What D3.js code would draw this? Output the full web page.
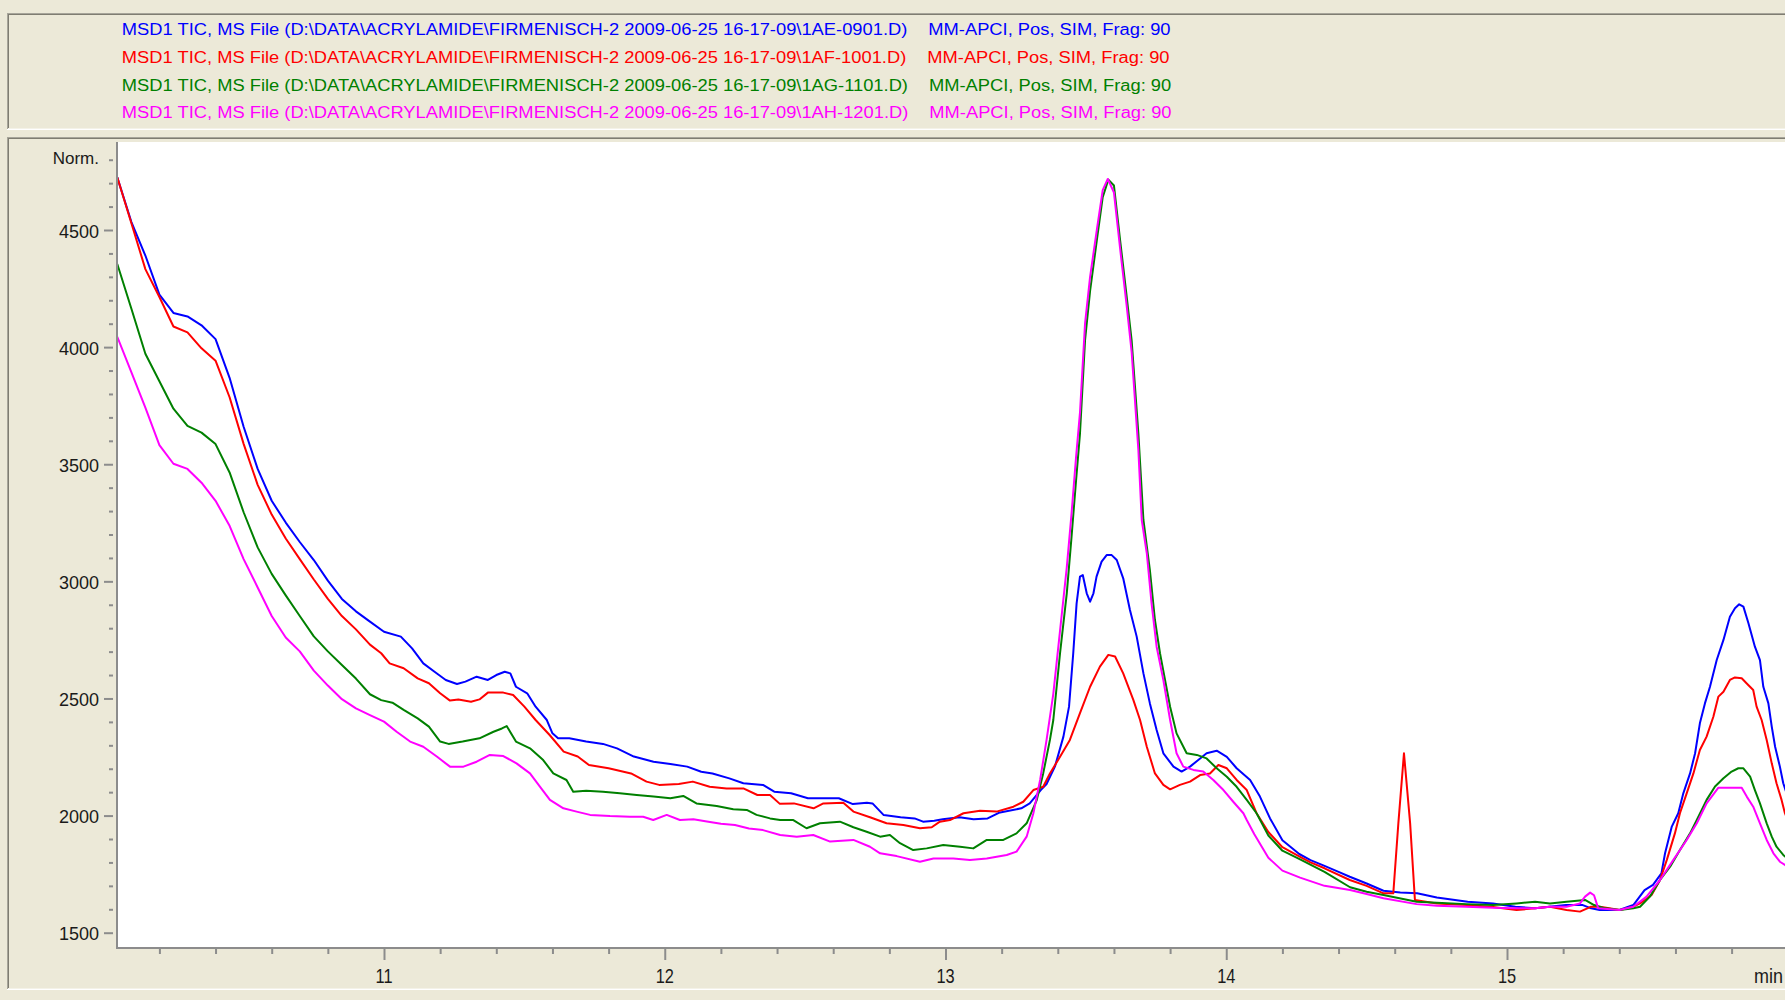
<!DOCTYPE html>
<html>
<head>
<meta charset="utf-8">
<script src="https://cdn.jsdelivr.net/npm/d3@7"></script>
<style>
  html, body { margin: 0; padding: 0; background: #ECE9D8; overflow: hidden; }
  svg { display: block; }
</style>
</head>
<body>
<svg id="chart" width="1785" height="1000"></svg>
<script>
// ---- Run descriptions (one per overlaid TIC trace) ----
const fileLabels = [
  "MSD1 TIC, MS File (D:\\DATA\\ACRYLAMIDE\\FIRMENISCH-2 2009-06-25 16-17-09\\1AE-0901.D)",
  "MSD1 TIC, MS File (D:\\DATA\\ACRYLAMIDE\\FIRMENISCH-2 2009-06-25 16-17-09\\1AF-1001.D)",
  "MSD1 TIC, MS File (D:\\DATA\\ACRYLAMIDE\\FIRMENISCH-2 2009-06-25 16-17-09\\1AG-1101.D)",
  "MSD1 TIC, MS File (D:\\DATA\\ACRYLAMIDE\\FIRMENISCH-2 2009-06-25 16-17-09\\1AH-1201.D)"
];
const methodLabel = "MM-APCI, Pos, SIM, Frag: 90";
const traceColors = ["#0000FF", "#FF0000", "#008000", "#FF00FF"];

// ---- Axis ticks ----
const yTickValues = [1500, 2000, 2500, 3000, 3500, 4000, 4500];
const yMinorValues = d3.range(1500, 4801, 100);
const xTickValues = [11, 12, 13, 14, 15];
const xMinorValues = d3.range(10.2, 16.0, 0.2).map(v => +v.toFixed(1));
const yUnitLabel = "Norm.";
const xUnitLabel = "min";

// ---- Traces: [retention time (min), normalised abundance] ----
const traceAE = [
  [10.05,4725],[10.10,4535],[10.15,4391],[10.20,4224],[10.25,4146],[10.30,4131],[10.35,4093],[10.40,4034],
  [10.45,3869],[10.50,3660],[10.55,3480],[10.60,3344],[10.65,3251],[10.70,3168],[10.75,3091],[10.80,3003],
  [10.85,2925],[10.90,2872],[10.95,2828],[11.00,2785],[11.06,2764],[11.10,2714],[11.14,2650],[11.18,2614],
  [11.22,2579],[11.26,2562],[11.29,2572],[11.33,2593],[11.37,2579],[11.40,2600],[11.43,2614],[11.45,2607],
  [11.47,2550],[11.51,2522],[11.54,2465],[11.58,2408],[11.60,2351],[11.62,2330],[11.66,2330],[11.72,2316],
  [11.78,2306],[11.83,2287],[11.89,2252],[11.96,2230],[12.02,2220],[12.08,2209],[12.13,2187],[12.17,2180],
  [12.23,2159],[12.28,2138],[12.35,2131],[12.39,2102],[12.45,2095],[12.51,2074],[12.62,2074],[12.67,2049],
  [12.72,2055],[12.74,2052],[12.78,2002],[12.84,1993],[12.89,1988],[12.92,1974],[12.96,1978],[12.99,1984],
  [13.05,1993],[13.10,1984],[13.15,1988],[13.19,2012],[13.27,2031],[13.30,2052],[13.34,2110],[13.36,2135],
  [13.39,2210],[13.42,2337],[13.44,2465],[13.455,2693],[13.467,2906],[13.479,3020],[13.489,3027],[13.503,2949],
  [13.515,2913],[13.527,2949],[13.538,3020],[13.556,3084],[13.574,3112],[13.592,3112],[13.61,3091],[13.633,3013],
  [13.657,2878],[13.681,2764],[13.705,2607],[13.728,2479],[13.752,2365],[13.776,2266],[13.812,2209],[13.841,2188],
  [13.871,2209],[13.907,2244],[13.93,2266],[13.966,2277],[14.002,2251],[14.037,2202],[14.085,2152],[14.12,2081],
  [14.156,1988],[14.2,1895],[14.26,1836],[14.3,1810],[14.35,1785],[14.4,1760],[14.44,1739],[14.5,1710],
  [14.56,1679],[14.62,1672],[14.68,1668],[14.75,1650],[14.86,1632],[14.95,1625],[15.03,1611],[15.1,1604],
  [15.15,1611],[15.21,1618],[15.27,1618],[15.3,1604],[15.33,1597],[15.4,1597],[15.45,1618],[15.49,1682],
  [15.52,1704],[15.55,1753],[15.563,1839],[15.587,1953],[15.61,2010],[15.628,2095],[15.652,2180],[15.67,2266],
  [15.687,2394],[15.705,2479],[15.723,2550],[15.747,2664],[15.771,2750],[15.794,2849],[15.812,2885],[15.827,2902],
  [15.842,2892],[15.86,2821],[15.883,2721],[15.901,2664],[15.913,2550],[15.931,2479],[15.943,2380],[15.955,2294],
  [15.972,2209],[15.984,2138],[16.0,2080]
];

const traceAF = [
  [10.05,4725],[10.10,4530],[10.15,4333],[10.20,4214],[10.25,4088],[10.30,4063],[10.35,3995],[10.40,3942],
  [10.45,3786],[10.50,3587],[10.55,3412],[10.60,3285],[10.65,3183],[10.70,3095],[10.75,3008],[10.80,2925],
  [10.85,2852],[10.90,2795],[10.95,2730],[10.99,2693],[11.02,2650],[11.07,2629],[11.12,2586],[11.16,2565],
  [11.20,2522],[11.235,2491],[11.265,2496],[11.31,2486],[11.34,2496],[11.37,2525],[11.425,2525],[11.46,2515],
  [11.50,2465],[11.54,2408],[11.59,2344],[11.64,2273],[11.69,2252],[11.73,2216],[11.80,2202],[11.88,2180],
  [11.935,2145],[11.98,2131],[12.05,2135],[12.10,2145],[12.16,2123],[12.22,2116],[12.28,2116],[12.33,2088],
  [12.375,2088],[12.41,2050],[12.46,2052],[12.53,2031],[12.565,2052],[12.636,2055],[12.672,2017],[12.731,1993],
  [12.79,1967],[12.85,1960],[12.909,1946],[12.951,1950],[12.98,1974],[13.016,1981],[13.064,2010],[13.123,2021],
  [13.182,2017],[13.242,2038],[13.277,2059],[13.313,2109],[13.348,2123],[13.372,2180],[13.408,2251],[13.443,2323],
  [13.479,2437],[13.515,2550],[13.55,2636],[13.58,2686],[13.604,2679],[13.633,2607],[13.669,2494],[13.693,2408],
  [13.717,2294],[13.746,2180],[13.776,2131],[13.80,2112],[13.835,2131],[13.871,2145],[13.907,2173],[13.942,2180],
  [13.972,2216],[14.002,2202],[14.037,2152],[14.073,2109],[14.108,2010],[14.15,1930],[14.2,1865],[14.263,1824],
  [14.3,1800],[14.35,1775],[14.44,1725],[14.5,1700],[14.56,1668],[14.595,1668],[14.613,1967],[14.633,2266],
  [14.655,1967],[14.672,1640],[14.75,1625],[14.856,1618],[14.95,1610],[15.034,1597],[15.1,1604],[15.153,1611],
  [15.212,1597],[15.26,1590],[15.3,1611],[15.331,1611],[15.402,1597],[15.45,1611],[15.474,1625],[15.515,1661],
  [15.545,1725],[15.569,1810],[15.598,1924],[15.616,2010],[15.64,2095],[15.664,2180],[15.687,2280],[15.711,2337],
  [15.735,2422],[15.753,2508],[15.771,2529],[15.794,2579],[15.812,2590],[15.836,2586],[15.854,2564],[15.877,2536],
  [15.889,2465],[15.907,2408],[15.925,2323],[15.943,2223],[15.96,2138],[15.978,2067],[15.99,2010],[16.0,1980]
];

const traceAG = [
  [10.05,4355],[10.10,4165],[10.15,3972],[10.20,3854],[10.25,3737],[10.30,3664],[10.35,3635],[10.40,3586],
  [10.45,3465],[10.50,3295],[10.55,3145],[10.60,3032],[10.65,2940],[10.70,2852],[10.75,2765],[10.80,2701],
  [10.85,2643],[10.90,2585],[10.95,2518],[10.99,2493],[11.03,2482],[11.07,2451],[11.12,2415],[11.16,2380],
  [11.20,2316],[11.23,2306],[11.28,2316],[11.34,2330],[11.39,2358],[11.42,2372],[11.437,2382],[11.47,2316],
  [11.52,2287],[11.567,2237],[11.603,2180],[11.65,2152],[11.674,2102],[11.72,2106],[11.78,2102],[11.84,2095],
  [11.90,2088],[11.96,2081],[12.02,2074],[12.066,2084],[12.113,2052],[12.185,2041],[12.244,2027],[12.292,2024],
  [12.327,2003],[12.375,1988],[12.411,1981],[12.458,1981],[12.505,1946],[12.553,1967],[12.624,1974],[12.672,1950],
  [12.719,1931],[12.767,1910],[12.802,1917],[12.838,1882],[12.885,1853],[12.933,1860],[12.992,1874],[13.052,1867],
  [13.099,1860],[13.147,1896],[13.206,1896],[13.253,1924],[13.289,1967],[13.325,2066],[13.348,2180],[13.372,2323],
  [13.384,2408],[13.408,2693],[13.432,2949],[13.449,3191],[13.465,3430],[13.479,3631],[13.497,4029],[13.515,4240],
  [13.539,4456],[13.56,4640],[13.58,4715],[13.6,4690],[13.622,4456],[13.645,4220],[13.663,4029],[13.687,3631],
  [13.705,3262],[13.728,3048],[13.746,2835],[13.764,2693],[13.782,2579],[13.80,2465],[13.823,2351],[13.859,2266],
  [13.895,2259],[13.93,2244],[13.966,2202],[14.002,2166],[14.037,2123],[14.073,2067],[14.108,2010],[14.15,1915],
  [14.2,1850],[14.263,1813],[14.35,1760],[14.441,1694],[14.5,1675],[14.56,1661],[14.678,1632],[14.75,1628],
  [14.856,1622],[14.95,1618],[15.034,1625],[15.1,1632],[15.153,1625],[15.212,1632],[15.278,1640],[15.31,1618],
  [15.35,1604],[15.402,1597],[15.45,1604],[15.474,1611],[15.509,1654],[15.545,1725],[15.581,1782],[15.616,1853],
  [15.652,1924],[15.676,1981],[15.711,2067],[15.741,2124],[15.771,2159],[15.80,2188],[15.824,2202],[15.842,2202],
  [15.866,2166],[15.883,2109],[15.901,2052],[15.925,1967],[15.943,1910],[15.96,1867],[15.984,1832],[16.0,1815]
];

const traceAH = [
  [10.05,4044],[10.10,3893],[10.15,3742],[10.20,3582],[10.25,3502],[10.30,3480],[10.35,3421],[10.40,3344],
  [10.45,3237],[10.50,3095],[10.55,2974],[10.60,2852],[10.65,2760],[10.70,2701],[10.75,2619],[10.80,2555],
  [10.85,2497],[10.90,2458],[10.95,2429],[11.00,2401],[11.045,2358],[11.093,2316],[11.14,2294],[11.188,2252],
  [11.235,2209],[11.283,2209],[11.33,2230],[11.377,2259],[11.425,2254],[11.472,2223],[11.52,2180],[11.556,2123],
  [11.591,2067],[11.639,2031],[11.686,2017],[11.734,2003],[11.805,1998],[11.876,1995],[11.923,1995],[11.959,1981],
  [12.007,2003],[12.054,1981],[12.102,1984],[12.15,1975],[12.2,1965],[12.25,1960],[12.3,1945],[12.35,1938],
  [12.411,1917],[12.47,1910],[12.529,1917],[12.589,1889],[12.672,1896],[12.731,1867],[12.767,1839],[12.826,1827],
  [12.909,1803],[12.957,1817],[13.028,1817],[13.087,1810],[13.147,1817],[13.218,1832],[13.253,1846],[13.289,1910],
  [13.313,2010],[13.337,2152],[13.36,2323],[13.384,2520],[13.408,2790],[13.432,3060],[13.449,3290],[13.465,3530],
  [13.479,3720],[13.497,4100],[13.515,4300],[13.539,4500],[13.56,4670],[13.578,4718],[13.6,4660],[13.622,4420],
  [13.645,4180],[13.663,3980],[13.687,3560],[13.699,3262],[13.717,3120],[13.734,2906],[13.752,2721],[13.776,2579],
  [13.80,2408],[13.823,2266],[13.847,2209],[13.883,2195],[13.918,2188],[13.954,2152],[13.99,2109],[14.025,2059],
  [14.061,2010],[14.073,1981],[14.1,1920],[14.15,1820],[14.2,1765],[14.263,1735],[14.35,1700],[14.441,1682],
  [14.5,1665],[14.56,1647],[14.678,1622],[14.75,1615],[14.856,1611],[14.95,1606],[15.034,1604],[15.1,1604],
  [15.153,1611],[15.212,1611],[15.26,1625],[15.278,1654],[15.296,1671],[15.31,1660],[15.325,1604],[15.4,1597],
  [15.45,1611],[15.497,1654],[15.545,1725],[15.592,1810],[15.64,1896],[15.676,1967],[15.711,2052],[15.753,2119],
  [15.836,2119],[15.854,2081],[15.877,2038],[15.901,1967],[15.925,1896],[15.949,1839],[15.972,1803],[15.99,1789],
  [16.0,1780]
];

const traces = [traceAE, traceAF, traceAG, traceAH];

// ---- Layout ----
const svg = d3.select("#chart");
const W = 1785, H = 1000;
const plot = { left: 117, top: 142, right: 1785, bottom: 948 };
const FONT = "'Liberation Sans', Arial, sans-serif";

const x = d3.scaleLinear().domain([11, 15]).range([384, 1507]);
const y = d3.scaleLinear().domain([1500, 4500]).range([932.7, 230]);

svg.append("rect").attr("width", W).attr("height", H).attr("fill", "#ECE9D8");

// Sunken window-style panel frame
function panel(x0, y0, y1) {
  const g = svg.append("g");
  g.append("rect").attr("x", x0).attr("y", y0).attr("width", W - x0 + 5).attr("height", y1 - y0)
    .attr("fill", "#ECE9D8");
  g.append("line").attr("x1", x0).attr("x2", W).attr("y1", y0 + 0.5).attr("y2", y0 + 0.5)
    .attr("stroke", "#A7A59A");
  g.append("line").attr("x1", x0 + 1).attr("x2", W).attr("y1", y0 + 1.5).attr("y2", y0 + 1.5)
    .attr("stroke", "#7F7D72");
  g.append("line").attr("x1", x0 + 0.5).attr("x2", x0 + 0.5).attr("y1", y0).attr("y2", y1)
    .attr("stroke", "#A7A59A");
  g.append("line").attr("x1", x0 + 1.5).attr("x2", x0 + 1.5).attr("y1", y0 + 1).attr("y2", y1 - 1)
    .attr("stroke", "#7F7D72");
  g.append("line").attr("x1", x0).attr("x2", W).attr("y1", y1 - 0.5).attr("y2", y1 - 0.5)
    .attr("stroke", "#FFFFFF");
  g.append("line").attr("x1", x0 + 1).attr("x2", W).attr("y1", y1 - 1.5).attr("y2", y1 - 1.5)
    .attr("stroke", "#F4F2E8");
}
panel(7, 13, 130);
panel(7, 137, 990);

// ---- Legend rows ----
const legend = svg.append("g").attr("font-family", FONT).attr("font-size", 16);
const rowCenters = [29.6, 56.9, 85.4, 112.7];
let squeeze = null;
fileLabels.forEach((label, i) => {
  const base = rowCenters[i] + 5.6;
  const t = legend.append("text").attr("x", 121.8).attr("y", base)
    .attr("fill", traceColors[i]).text(label);
  const natural = t.node().getComputedTextLength();
  if (squeeze === null) squeeze = 785.5 / natural;
  const w = natural * squeeze;
  t.attr("textLength", w).attr("lengthAdjust", "spacingAndGlyphs");
  const m = legend.append("text").attr("x", 121.8 + w + 21).attr("y", base)
    .attr("fill", traceColors[i]).text(methodLabel);
  const mw = m.node().getComputedTextLength();
  m.attr("textLength", mw * squeeze).attr("lengthAdjust", "spacingAndGlyphs");
});

// ---- Plot area ----
svg.append("rect").attr("x", plot.left).attr("y", plot.top)
  .attr("width", plot.right - plot.left).attr("height", plot.bottom - plot.top)
  .attr("fill", "#FFFFFF");

svg.append("clipPath").attr("id", "plotClip").append("rect")
  .attr("x", plot.left + 1).attr("y", plot.top)
  .attr("width", plot.right - plot.left).attr("height", plot.bottom - plot.top - 1);

const line = d3.line().x(d => x(d[0])).y(d => y(d[1]));
svg.append("g").attr("clip-path", "url(#plotClip)")
  .selectAll("path").data(traces).join("path")
  .attr("d", line)
  .attr("fill", "none")
  .attr("stroke", (d, i) => traceColors[i])
  .attr("stroke-width", 2)
  .attr("stroke-linejoin", "round");

// ---- Y axis ----
const axisColor = "#8C8C8C";
const yMinorAxis = d3.axisLeft(y).tickValues(yMinorValues.filter(v => !yTickValues.includes(v)))
  .tickSize(4).tickFormat("");
svg.append("g").attr("transform", "translate(113,0)").call(yMinorAxis)
  .call(g => g.select(".domain").remove())
  .call(g => g.selectAll("line").attr("stroke", axisColor).attr("stroke-width", 2));

const yMajorAxis = d3.axisLeft(y).tickValues(yTickValues).tickSize(9).tickPadding(5)
  .tickFormat(d3.format("d"));
svg.append("g").attr("transform", "translate(113,0)").call(yMajorAxis)
  .call(g => g.select(".domain").remove())
  .call(g => g.selectAll("line").attr("stroke", axisColor).attr("stroke-width", 2))
  .call(g => g.selectAll("text").attr("font-family", FONT).attr("font-size", 18)
    .attr("fill", "#1A1A1A").attr("dy", "0.39em"));

svg.append("text").attr("x", 99).attr("y", 163.5).attr("text-anchor", "end")
  .attr("font-family", FONT).attr("font-size", 17).attr("fill", "#1A1A1A").text(yUnitLabel);

svg.append("line").attr("x1", plot.left).attr("x2", plot.left)
  .attr("y1", plot.top).attr("y2", plot.bottom + 1)
  .attr("stroke", axisColor).attr("stroke-width", 2);

// ---- X axis ----
const xMinorAxis = d3.axisBottom(x).tickValues(xMinorValues.filter(v => !xTickValues.includes(v)))
  .tickSize(6).tickFormat("");
svg.append("g").attr("transform", `translate(0,${plot.bottom})`).call(xMinorAxis)
  .call(g => g.select(".domain").remove())
  .call(g => g.selectAll("line").attr("stroke", axisColor).attr("stroke-width", 2));

const xMajorAxis = d3.axisBottom(x).tickValues(xTickValues).tickSize(12).tickFormat("");
svg.append("g").attr("transform", `translate(0,${plot.bottom})`).call(xMajorAxis)
  .call(g => g.select(".domain").remove())
  .call(g => g.selectAll("line").attr("stroke", axisColor).attr("stroke-width", 2));

svg.append("line").attr("x1", plot.left).attr("x2", plot.right)
  .attr("y1", plot.bottom).attr("y2", plot.bottom)
  .attr("stroke", axisColor).attr("stroke-width", 2);

svg.append("g").selectAll("text").data(xTickValues).join("text")
  .attr("transform", d => `translate(${x(d)},983) scale(0.82,1)`)
  .attr("text-anchor", "middle")
  .attr("font-family", FONT).attr("font-size", 20).attr("fill", "#1A1A1A")
  .text(d => d);

svg.append("text").attr("transform", "translate(1783,983) scale(0.9,1)")
  .attr("text-anchor", "end")
  .attr("font-family", FONT).attr("font-size", 20).attr("fill", "#1A1A1A")
  .text(xUnitLabel);
</script>
</body>
</html>
